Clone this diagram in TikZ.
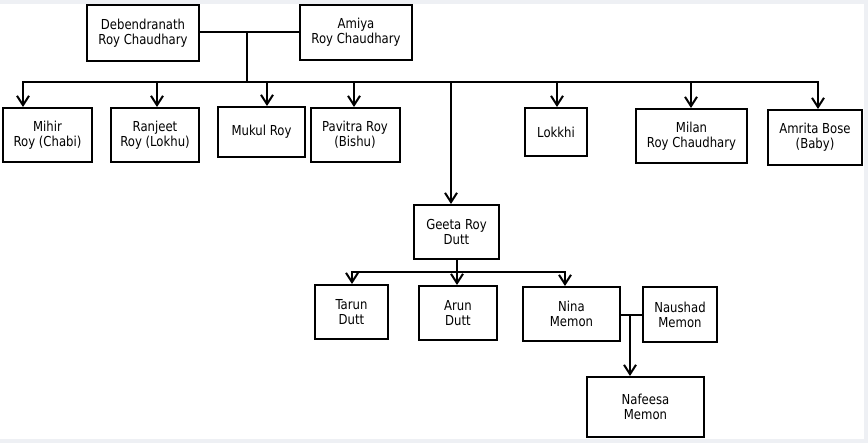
\documentclass[tikz,border=0pt]{standalone}
\usepackage{fontspec}
\setmainfont{DejaVu Sans}[FakeStretch=0.85]
\usepackage{tikz}
\usetikzlibrary{arrows.meta}
\definecolor{pagegray}{RGB}{238,240,244}

\begin{document}
\begin{tikzpicture}[x=0.75pt,y=-0.75pt,
    person/.style 2 args={draw,line width=1.5pt,align=center,inner sep=0pt,
      minimum width=#1*0.75pt,minimum height=#2*0.75pt,font=\fontsize{10.3}{11.4}\selectfont},
    link/.style={line width=1.5pt},
    arr/.style={line width=1.5pt,-{Straight Barb[length=7pt,width=9pt,line width=1.5pt]}}]
      \fill[pagegray] (0,0) rectangle (868,443);
      \fill[white] (0,4) rectangle (864,439);
      \useasboundingbox (0,0) rectangle (868,443);
      % parents
      \node[person={112}{56}] (deb) at (143,33) {Debendranath\\Roy Chaudhary};
      \node[person={112}{55}] (amiya) at (356,32) {Amiya\\Roy Chaudhary};
      % children
      \node[person={89}{54}] (mihir) at (47.5,135) {Mihir\\Roy (Chabi)};
      \node[person={88}{54}] (ranjeet) at (155,135) {Ranjeet\\Roy (Lokhu)};
      \node[person={87}{50}] (mukul) at (261.5,132) {Mukul Roy};
      \node[person={89}{54}] (pavitra) at (355,135) {Pavitra Roy\\(Bishu)};
      \node[person={62}{48}] (lokkhi) at (556,132) {Lokkhi};
      \node[person={111}{54}] (milan) at (691.5,136) {Milan\\Roy Chaudhary};
      \node[person={94}{55}] (amrita) at (815,137.5) {Amrita Bose\\(Baby)};
      \node[person={85}{54}] (geeta) at (456.5,232) {Geeta Roy\\Dutt};
      % grandchildren
      \node[person={73}{54}] (tarun) at (351.5,312) {Tarun\\Dutt};
      \node[person={78}{54}] (arun) at (458,313) {Arun\\Dutt};
      \node[person={97}{54}] (nina) at (571.5,314) {Nina\\Memon};
      \node[person={74}{55}] (naushad) at (680,314.5) {Naushad\\Memon};
      \node[person={117}{60}] (nafeesa) at (645.5,407) {Nafeesa\\Memon};
      % first marriage
      \coordinate (couple) at (247,32);
      \draw[link] (deb.east |- couple) -- (amiya.west |- couple);
      \draw[link] (couple) -- (247,82) coordinate (bus);
      \foreach \n/\x in {mihir/23,ranjeet/157,mukul/267,pavitra/354,geeta/451,lokkhi/557,milan/691,amrita/818}{
        \coordinate (t\n) at (\x,82);
        \draw[arr] (t\n) -- (t\n |- \n.north);
      }
      \draw[link,line cap=rect] (tmihir) -- (tamrita);
      % geeta's children
      \coordinate (gbus) at (457,272);
      \draw[link] (gbus |- geeta.south) -- (gbus);
      \foreach \n/\x in {tarun/352,arun/457,nina/565}{
        \coordinate (t\n) at (\x,272);
        \draw[arr] (t\n) -- (t\n |- \n.north);
      }
      \draw[link,line cap=rect] (ttarun) -- (tnina);
      % nina and naushad
      \coordinate (nn) at (630,315);
      \draw[link] (nina.east |- nn) -- (naushad.west |- nn);
      \draw[arr] (nn) -- (nn |- nafeesa.north);
    \end{tikzpicture}
\end{document}
